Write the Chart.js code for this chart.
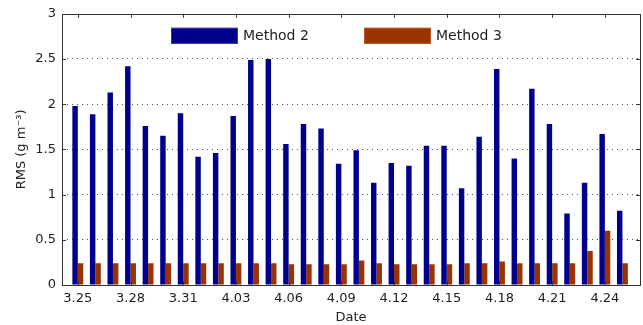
<!DOCTYPE html>
<html lang="en">
<head>
  <meta charset="UTF-8">
  <title>RMS by date</title>
  <script src="https://cdn.jsdelivr.net/npm/chart.js"></script>
  <style>
    body {
      margin: 0;
      padding: 0;
      background-color: #fff;
    }
    #contenedor {
      width: 643px;
      height: 325px;
    }
  </style>
</head>
<body>

  <div id="contenedor">
    <canvas id="grafico-rms"></canvas>
  </div>

  <script>
    var fechas = ['3.25', '3.26', '3.27', '3.28', '3.29', '3.30', '3.31',
      '4.01', '4.02', '4.03', '4.04', '4.05', '4.06', '4.07', '4.08', '4.09',
      '4.10', '4.11', '4.12', '4.13', '4.14', '4.15', '4.16', '4.17', '4.18',
      '4.19', '4.20', '4.21', '4.22', '4.23', '4.24', '4.25'];

    var metodo2 = [1.98, 1.89, 2.13, 2.42, 1.76, 1.65, 1.90, 1.42, 1.46, 1.87,
      2.49, 2.50, 1.56, 1.78, 1.73, 1.34, 1.49, 1.13, 1.35, 1.32, 1.54, 1.54,
      1.07, 1.64, 2.39, 1.40, 2.17, 1.78, 0.79, 1.13, 1.67, 0.82];

    var metodo3 = [0.24, 0.24, 0.24, 0.24, 0.24, 0.24, 0.24, 0.24, 0.24, 0.24,
      0.24, 0.24, 0.23, 0.23, 0.23, 0.23, 0.27, 0.24, 0.23, 0.23, 0.23, 0.23,
      0.24, 0.24, 0.26, 0.24, 0.24, 0.24, 0.24, 0.375, 0.60, 0.24];

    var ticksY = [0, 0.5, 1, 1.5, 2, 2.5, 3];

    var fuente = "'DejaVu Sans', 'Liberation Sans', Arial, sans-serif";
    var colorTexto = '#222';

    function aPuntos(valores) {
      return valores.map(function (v, i) { return { x: i, y: v }; });
    }

    // marco del grafico + marcas de los ticks hacia adentro (estilo matlab)
    var marcoPlugin = {
      id: 'marco',
      afterDraw: function (chart) {
        var ctx = chart.ctx;
        var a = chart.chartArea;
        var sx = chart.scales.x;
        var sy = chart.scales.y;
        var largo = 4;
        ctx.save();
        ctx.strokeStyle = '#333';
        ctx.lineWidth = 1;
        ctx.beginPath();
        sx.ticks.forEach(function (t) {
          var px = Math.round(sx.getPixelForValue(t.value)) + 0.5;
          ctx.moveTo(px, a.bottom);
          ctx.lineTo(px, a.bottom - largo);
          ctx.moveTo(px, a.top);
          ctx.lineTo(px, a.top + largo);
        });
        sy.ticks.forEach(function (t) {
          var py = Math.round(sy.getPixelForValue(t.value)) + 0.5;
          ctx.moveTo(a.left, py);
          ctx.lineTo(a.left + largo, py);
          ctx.moveTo(a.right, py);
          ctx.lineTo(a.right - largo, py);
        });
        ctx.stroke();
        ctx.strokeRect(Math.round(a.left) + 0.5, Math.round(a.top) + 0.5,
          Math.round(a.right - a.left), Math.round(a.bottom - a.top));
        ctx.restore();
      }
    };

    // leyenda dentro del area del grafico
    var leyendaPlugin = {
      id: 'leyendaInterna',
      afterDraw: function (chart) {
        var ctx = chart.ctx;
        var a = chart.chartArea;
        var x = a.left + 109;
        var y = a.top + 14;
        var anchoCaja = 67;
        var altoCaja = 16;
        ctx.save();
        ctx.font = '14px ' + fuente;
        ctx.textBaseline = 'middle';
        chart.data.datasets.forEach(function (ds) {
          ctx.fillStyle = ds.backgroundColor;
          ctx.fillRect(x, y, anchoCaja, altoCaja);
          ctx.strokeStyle = ds.borderColor;
          ctx.lineWidth = 1;
          ctx.strokeRect(x + 0.5, y + 0.5, anchoCaja - 1, altoCaja - 1);
          ctx.fillStyle = colorTexto;
          ctx.fillText(ds.label, x + anchoCaja + 5, y + altoCaja / 2 + 1);
          x += 193;
        });
        ctx.restore();
      }
    };

    var ctxRms = document.getElementById('grafico-rms').getContext('2d');
    var graficoRms = new Chart(ctxRms, {
      type: 'bar',
      data: {
        datasets: [{
          label: 'Method 2',
          data: aPuntos(metodo2),
          backgroundColor: '#00008B',
          borderColor: '#3a3ab0',
          borderWidth: 0
        }, {
          label: 'Method 3',
          data: aPuntos(metodo3),
          backgroundColor: '#993300',
          borderColor: '#b8582a',
          borderWidth: 0
        }]
      },
      options: {
        responsive: true,
        maintainAspectRatio: false,
        animation: false,
        categoryPercentage: 0.62,
        barPercentage: 1,
        layout: {
          padding: { top: 13, right: 3, left: 0, bottom: 0 }
        },
        plugins: {
          legend: { display: false },
          tooltip: { enabled: false }
        },
        scales: {
          x: {
            type: 'linear',
            offset: false,
            min: -0.9,
            max: 32,
            afterFit: function (scale) { scale.height = 40; },
            grid: { display: false, drawTicks: false, offset: false },
            border: { display: false },
            ticks: {
              stepSize: 3,
              includeBounds: false,
              autoSkip: false,
              maxRotation: 0,
              padding: 6,
              color: colorTexto,
              font: { family: fuente, size: 13 },
              callback: function (v) { return fechas[v] || ''; }
            },
            title: {
              display: true,
              text: 'Date',
              color: colorTexto,
              font: { family: fuente, size: 13 },
              padding: { top: 0, bottom: 0 }
            }
          },
          y: {
            min: 0,
            max: 3,
            afterFit: function (scale) { scale.width = 62; },
            afterBuildTicks: function (scale) {
              scale.ticks = ticksY.map(function (v) { return { value: v }; });
            },
            grid: {
              drawTicks: false,
              lineWidth: 1,
              color: function (c) {
                if (c.tick && (c.tick.value === 0 || c.tick.value === 3)) return 'rgba(0,0,0,0)';
                return '#555';
              }
            },
            border: { display: false, dash: [1, 4] },
            ticks: {
              padding: 6,
              color: colorTexto,
              font: { family: fuente, size: 13 },
              callback: function (v) { return String(v); }
            },
            title: {
              display: true,
              text: 'RMS (g m⁻³)',
              color: colorTexto,
              font: { family: fuente, size: 13 },
              padding: { top: 14, bottom: 0 }
            }
          }
        }
      },
      plugins: [marcoPlugin, leyendaPlugin]
    });
  </script>

</body>
</html>
